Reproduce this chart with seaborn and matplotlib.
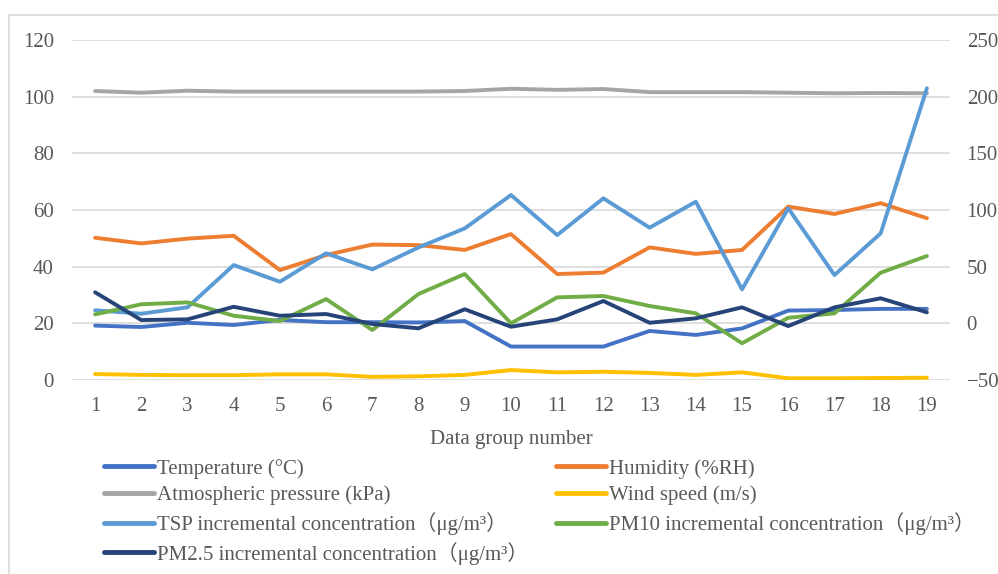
import pandas as pd
import matplotlib
matplotlib.use('Agg')
import matplotlib.pyplot as plt
from matplotlib.lines import Line2D
import seaborn as sns

# values
groups = list(range(1, 20))

# left axis
temperature = [19.2, 18.7, 20.2, 19.4, 21.2, 20.4, 20.4, 20.3, 20.8, 11.8,
               11.8, 11.8, 17.3, 15.9, 18.2, 24.5, 24.7, 25.1, 25.1]
humidity = [50.2, 48.2, 49.9, 50.9, 38.8, 44.1, 47.8, 47.6, 45.9, 51.5,
            37.4, 37.9, 46.8, 44.5, 45.9, 61.2, 58.6, 62.4, 57.1]
pressure = [102.0, 101.4, 102.1, 101.8, 101.8, 101.8, 101.8, 101.8, 102.0, 102.8,
            102.4, 102.7, 101.6, 101.6, 101.6, 101.4, 101.2, 101.3, 101.2]
wind_speed = [2.1, 1.8, 1.7, 1.7, 2.0, 2.0, 1.1, 1.3, 1.8, 3.5,
              2.7, 2.9, 2.5, 1.8, 2.7, 0.6, 0.6, 0.7, 0.8]

# right axis
tsp = [11.5, 8.5, 14.1, 51.4, 36.7, 61.8, 47.6, 67.0, 83.8, 113.2,
       77.9, 110.3, 84.4, 107.3, 30.0, 101.5, 42.6, 79.4, 207.4]
pm10 = [7.9, 16.8, 18.5, 6.7, 2.0, 21.4, -5.9, 25.9, 43.5, 0.0,
        22.9, 24.1, 15.3, 8.8, -17.6, 4.9, 8.8, 44.7, 59.4]
pm25 = [27.4, 2.9, 3.5, 14.6, 6.7, 8.2, -0.6, -4.4, 12.4, -3.0,
        3.5, 19.7, 0.5, 4.4, 14.1, -2.4, 14.1, 22.1, 9.7]

left_names = ['Temperature (°C)', 'Humidity (%RH)', 'Atmospheric pressure (kPa)', 'Wind speed (m/s)']
right_names = ['TSP incremental concentration（μg/m³）',
               'PM10 incremental concentration（μg/m³）',
               'PM2.5 incremental concentration（μg/m³）']
left_colors = ['#4472C4', '#ED7D31', '#A5A5A5', '#FFC000']
right_colors = ['#5B9BD5', '#70AD47', '#264478']


def to_long(names, series):
    frames = []
    for name, vals in zip(names, series):
        frames.append(pd.DataFrame({'group': groups, 'value': vals, 'series': name}))
    return pd.concat(frames, ignore_index=True)


df_left = to_long(left_names, [temperature, humidity, pressure, wind_speed])
df_right = to_long(right_names, [tsp, pm10, pm25])

sns.set_style('white')
plt.rcParams['font.family'] = ['Liberation Serif', 'Noto Sans CJK SC']
plt.rcParams['lines.solid_capstyle'] = 'round'
plt.rcParams['lines.solid_joinstyle'] = 'round'

text_color = '#595959'
grid_color = '#D9D9D9'
fs = 15

fig = plt.figure(figsize=(9.98, 5.74), dpi=100)
ax = fig.add_axes([0.0721, 0.338, 0.8798, 0.5923])
ax2 = ax.twinx()

sns.lineplot(data=df_left, x='group', y='value', hue='series', hue_order=left_names,
             palette=left_colors, linewidth=2.8, ax=ax)
sns.lineplot(data=df_right, x='group', y='value', hue='series', hue_order=right_names,
             palette=right_colors, linewidth=2.8, ax=ax2)

h1, l1 = ax.get_legend_handles_labels()
h2, l2 = ax2.get_legend_handles_labels()
ax.get_legend().remove()
ax2.get_legend().remove()

ax.set_xlim(0.5, 19.5)
ax.set_ylim(0, 120)
ax.set_yticks(range(0, 121, 20))
ax2.set_ylim(-50, 250)
ax2.set_yticks(range(-50, 251, 50))
ax.set_xticks(groups)

ax.grid(axis='y', color=grid_color, linewidth=1.2)
ax.set_axisbelow(True)
for a in (ax, ax2):
    for s in a.spines.values():
        s.set_visible(False)
    a.set_ylabel('')
ax.tick_params(axis='both', length=0, labelsize=fs, labelcolor=text_color)
ax.tick_params(axis='y', pad=13)
ax.tick_params(axis='x', pad=12)
ax2.tick_params(axis='y', length=0, labelsize=fs, labelcolor=text_color, pad=12)

ax.set_xlabel('Data group number', fontsize=fs, color=text_color, labelpad=10)

handles = [h1[0], h1[2], h2[0], h2[2], h1[1], h1[3], h2[1]]
labels = [l1[0], l1[2], l2[0], l2[2], l1[1], l1[3], l2[1]]
for h in handles:
    h.set_linewidth(3.5)
fig.legend(handles, labels, loc='upper left', bbox_to_anchor=(0.104, 0.201),
           ncol=2, frameon=False, fontsize=fs, labelcolor=text_color,
           handlelength=2.4, handletextpad=0.15, columnspacing=1.33,
           labelspacing=0.33, borderpad=0, borderaxespad=0)

# chart area border
fig.add_artist(Line2D([9 / 998, 9 / 998], [0, 1 - 15 / 574], color=grid_color, linewidth=1.2))
fig.add_artist(Line2D([9 / 998, 1], [1 - 15 / 574, 1 - 15 / 574], color=grid_color, linewidth=1.2))

fig.savefig('out.png', dpi=100)
